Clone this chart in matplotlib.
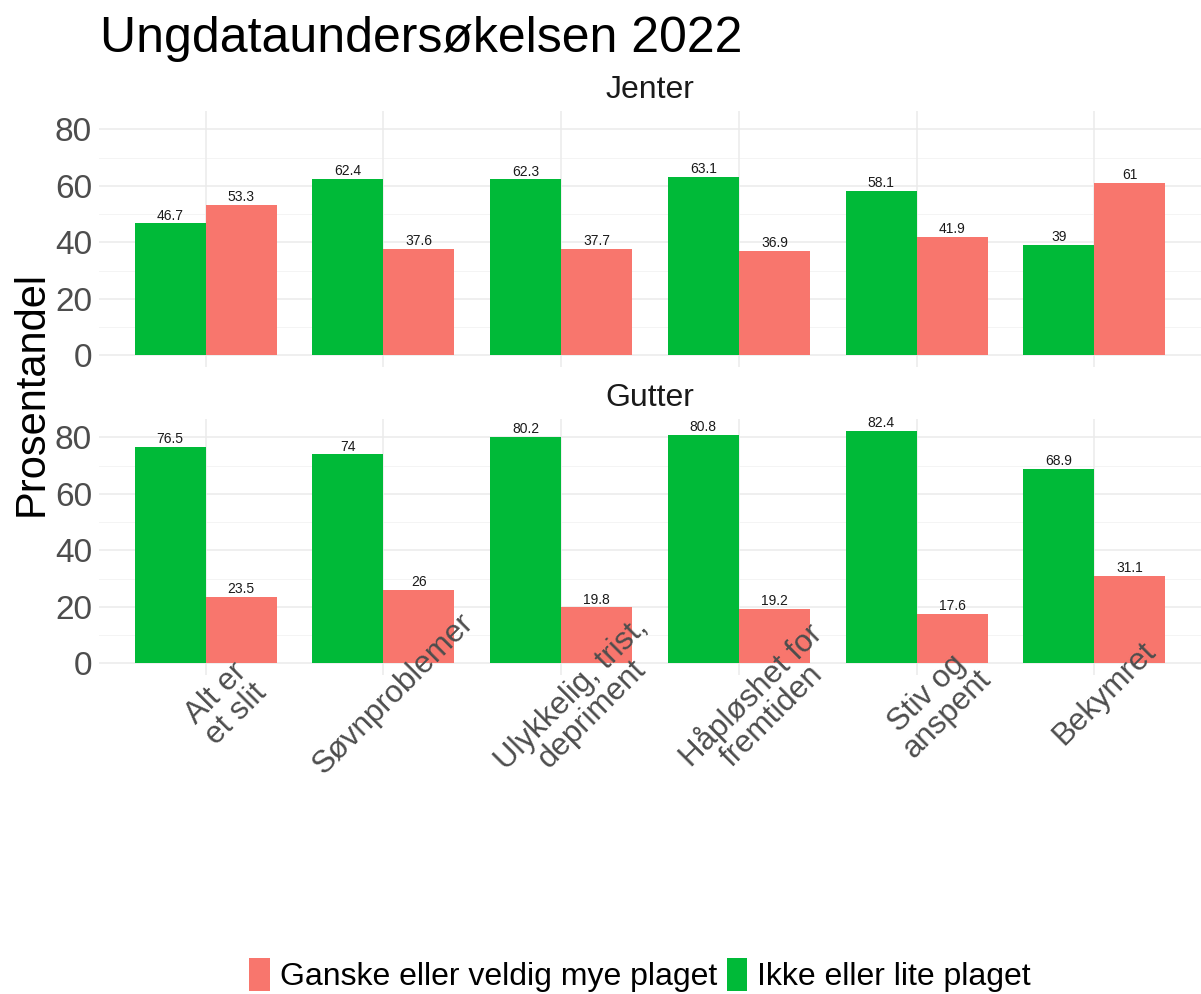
import matplotlib
matplotlib.use("Agg")
import matplotlib.pyplot as plt
import numpy as np
from matplotlib.patches import Patch

plt.rcParams['font.family'] = ['Liberation Sans', 'DejaVu Sans']

categories = ["Alt er\net slit", "Søvnproblemer", "Ulykkelig, trist,\ndepriment",
              "Håpløshet for\nfremtiden", "Stiv og\nanspent", "Bekymret"]
facets = ["Jenter", "Gutter"]
series_names = ["Ikke eller lite plaget", "Ganske eller veldig mye plaget"]
jenter_ikke = [46.7, 62.4, 62.3, 63.1, 58.1, 39]
jenter_ganske = [53.3, 37.6, 37.7, 36.9, 41.9, 61]
gutter_ikke = [76.5, 74, 80.2, 80.8, 82.4, 68.9]
gutter_ganske = [23.5, 26, 19.8, 19.2, 17.6, 31.1]
yticks = [0, 20, 40, 60, 80]

colors = {"Ikke eller lite plaget": "#00BA38", "Ganske eller veldig mye plaget": "#F8766D"}
data = {"Jenter": (jenter_ikke, jenter_ganske), "Gutter": (gutter_ikke, gutter_ganske)}

W, H = 1201, 994
fig = plt.figure(figsize=(W / 100, H / 100), dpi=100)

def fx(px):
    return px / W

def fy(px):
    return 1 - px / H

ymax = max(max(gutter_ikke), max(jenter_ikke), max(jenter_ganske))
ylim = (-0.05 * ymax, 1.05 * ymax)

panel_px = [(111, 367), (419, 675)]
left_px, right_px = 99, 1201
x = np.arange(len(categories))
bw = 0.4
for i, (facet, (top, bot)) in enumerate(zip(facets, panel_px)):
    ax = fig.add_axes([fx(left_px), fy(bot), fx(right_px - left_px), (bot - top) / H])
    ikke, ganske = data[facet]
    ax.set_xlim(-0.6, len(categories) - 0.4)
    ax.set_ylim(*ylim)
    for v in yticks:
        ax.axhline(v, color="#EBEBEB", lw=1.1, zorder=0.2)
    for v in np.arange(10, 90, 20):
        ax.axhline(v, color="#F2F2F2", lw=0.6, zorder=0.2)
    for xi in x:
        ax.axvline(xi, color="#EBEBEB", lw=1.1, zorder=0.2)
    b1 = ax.bar(x - bw / 2, ikke, width=bw, color=colors[series_names[0]], zorder=1)
    b2 = ax.bar(x + bw / 2, ganske, width=bw, color=colors[series_names[1]], zorder=1)
    for bars, vals in ((b1, ikke), (b2, ganske)):
        for rect, v in zip(bars, vals):
            ax.text(rect.get_x() + rect.get_width() / 2, v + 0.3, f"{v:g}",
                    ha="center", va="bottom", fontsize=10, color="#1A1A1A", zorder=3)
    for s in ax.spines.values():
        s.set_visible(False)
    ax.set_axisbelow(False)
    ax.set_yticks(yticks)
    ax.set_yticklabels([str(t) for t in yticks], fontsize=24, color="#4D4D4D")
    ax.tick_params(axis="y", length=0, pad=5)
    ax.tick_params(axis="x", length=0, pad=5.8)
    ax.set_xticks(x)
    if i == 0:
        ax.set_xticklabels([])
    else:
        ax.set_xticklabels(categories, rotation=45, ha="center", va="top",
                           rotation_mode="anchor", fontsize=22.5, color="#4D4D4D",
                           multialignment="center", linespacing=0.95)
    fig.text(fx(650), fy(top - 21), facet, ha="center", va="center",
             fontsize=23, color="#1A1A1A")

fig.text(fx(100), fy(52), "Ungdataundersøkelsen 2022", ha="left", va="baseline",
         fontsize=36, color="black")
fig.text(fx(32), fy(394), "Prosentandel", ha="center", va="center", rotation=90,
         fontsize=30, color="black")

handles = [Patch(facecolor=colors[series_names[1]], label=series_names[1]),
           Patch(facecolor=colors[series_names[0]], label=series_names[0])]
fig.legend(handles=handles, loc="center", bbox_to_anchor=(fx(640), fy(975)), ncol=2,
           frameon=False, fontsize=23, handlelength=0.65, handleheight=1.25,
           handletextpad=0.3, columnspacing=0.3, borderpad=0)

fig.savefig("out.png", dpi=100)
